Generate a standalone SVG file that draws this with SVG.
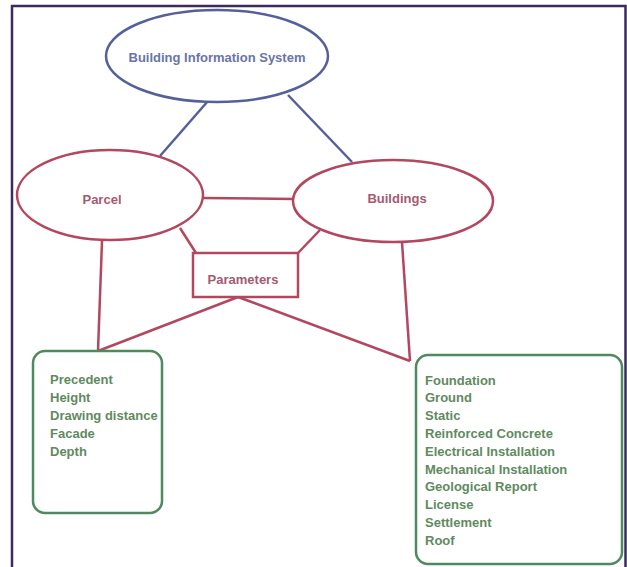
<svg xmlns="http://www.w3.org/2000/svg" width="627" height="567" viewBox="0 0 627 567">
<style>
.frame{fill:none;stroke:#3b2b5e;stroke-width:2.5}
.blue{fill:#fff;stroke:#55609a;stroke-width:2.5}
.red{fill:#fff;stroke:#b3475f;stroke-width:2.5}
.green{fill:#fff;stroke:#4f8a5e;stroke-width:2.5}
.bl{stroke:#55609a;stroke-width:2.5;fill:none}
.rl{stroke:#b3475f;stroke-width:2.5;fill:none}
text{font-family:"Liberation Sans",Arial,sans-serif;font-weight:bold;font-size:13px}
.tb{fill:#6a74a6}
.tr{fill:#a55a70}
.tg{fill:#5f8a60}
</style>
<rect width="627" height="567" fill="#fff"/>
<rect class="frame" x="12" y="6" width="613.5" height="575"/>
<g id="connectors">
<line class="bl" x1="208" y1="101" x2="160" y2="156"/>
<line class="bl" x1="288" y1="95" x2="352" y2="162"/>
<line class="rl" x1="203" y1="198" x2="294" y2="199"/>
<line class="rl" x1="180" y1="228" x2="196" y2="253"/>
<line class="rl" x1="320" y1="230" x2="298" y2="253"/>
<line class="rl" x1="102" y1="241" x2="98" y2="351"/>
<line class="rl" x1="402" y1="242" x2="410" y2="361"/>
<line class="rl" x1="238" y1="297" x2="98" y2="351"/>
<line class="rl" x1="238" y1="297" x2="410" y2="361"/>
</g>
<g id="bis">
<ellipse class="blue" cx="217" cy="56" rx="111" ry="46"/>
<text class="tb" x="217" y="62" text-anchor="middle" font-size="12.8">Building Information System</text>
</g>
<g id="parcel">
<ellipse class="red" cx="110" cy="195" rx="93" ry="45"/>
<text class="tr" x="102" y="204" text-anchor="middle">Parcel</text>
</g>
<g id="buildings">
<ellipse class="red" cx="393" cy="201" rx="100" ry="41"/>
<text class="tr" x="397" y="203" text-anchor="middle" font-size="12.5">Buildings</text>
</g>
<g id="parameters">
<rect class="red" x="193" y="253" width="105" height="44"/>
<text class="tr" x="243" y="284" text-anchor="middle">Parameters</text>
</g>
<g id="parcel-params">
<rect class="green" x="33" y="351" width="129" height="162" rx="12"/>
<text class="tg" x="50" y="384">Precedent</text>
<text class="tg" x="50" y="402">Height</text>
<text class="tg" x="50" y="420">Drawing distance</text>
<text class="tg" x="50" y="438">Facade</text>
<text class="tg" x="50" y="456">Depth</text>
</g>
<g id="building-params">
<rect class="green" x="416" y="355" width="206" height="209" rx="12"/>
<text class="tg" x="425" y="384.5">Foundation</text>
<text class="tg" x="425" y="402.3">Ground</text>
<text class="tg" x="425" y="420.1">Static</text>
<text class="tg" x="425" y="437.9">Reinforced Concrete</text>
<text class="tg" x="425" y="455.7">Electrical Installation</text>
<text class="tg" x="425" y="473.5">Mechanical Installation</text>
<text class="tg" x="425" y="491.3">Geological Report</text>
<text class="tg" x="425" y="509.1">License</text>
<text class="tg" x="425" y="526.9">Settlement</text>
<text class="tg" x="425" y="544.7">Roof</text>
</g>
</svg>
